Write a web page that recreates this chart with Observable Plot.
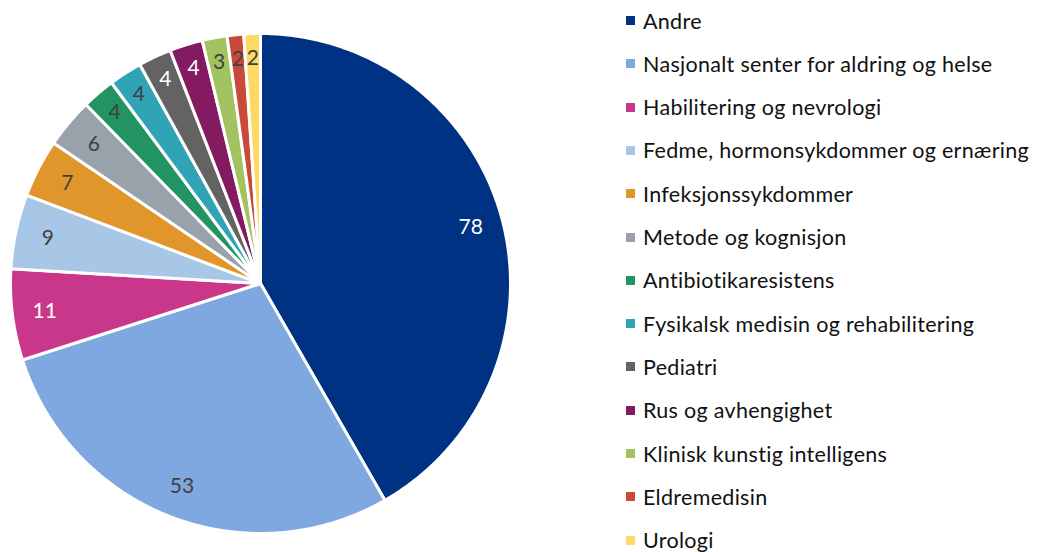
<!DOCTYPE html>
<html>
<head>
<meta charset="utf-8">
<script src="https://cdn.jsdelivr.net/npm/d3@7"></script>
<script src="https://cdn.jsdelivr.net/npm/@observablehq/plot@0.6"></script>
<style>
  html, body { margin: 0; padding: 0; background: #fff; overflow: hidden; }
  #wrap { position: relative; width: 1047px; height: 552px; font-family: Lato, "Open Sans", sans-serif; }
  #legend { position: absolute; left: 626px; top: 0; }
  .row { position: absolute; left: 0; white-space: nowrap; display: flex; align-items: center; height: 26px; font-size: 21.5px; letter-spacing: 0.3px; color: #111; }
  .sw { width: 9px; height: 9px; margin-right: 8px; flex: none; }
</style>
</head>
<body>
<div id="wrap"><div id="legend"></div></div>
<script>
const categories = [
  "Andre",
  "Nasjonalt senter for aldring og helse",
  "Habilitering og nevrologi",
  "Fedme, hormonsykdommer og ernæring",
  "Infeksjonssykdommer",
  "Metode og kognisjon",
  "Antibiotikaresistens",
  "Fysikalsk medisin og rehabilitering",
  "Pediatri",
  "Rus og avhengighet",
  "Klinisk kunstig intelligens",
  "Eldremedisin",
  "Urologi"
];
const values = [78, 53, 11, 9, 7, 6, 4, 4, 4, 4, 3, 2, 2];
const colors = ["#003283", "#7FA8E0", "#C9378A", "#A8C6E6", "#E0962A", "#99A1AA", "#229463", "#30A3B5", "#636363", "#841B60", "#A3C260", "#C94A3B", "#FFD966"];
const labelColors = ["#fff", "#404040", "#fff", "#404040", "#404040", "#404040", "#404040", "#404040", "#fff", "#fff", "#404040", "#404040", "#404040"];

const R = 250;
const pie = d3.pie().sort(null).value(d => d.value)(categories.map((name, i) => ({name, value: values[i], i})));

const polys = [];
for (const a of pie) {
  const n = Math.max(4, Math.ceil((a.endAngle - a.startAngle) / 0.01));
  polys.push({name: a.data.name, x: 0, y: 0});
  for (let k = 0; k <= n; k++) {
    const t = a.startAngle + (a.endAngle - a.startAngle) * k / n;
    polys.push({name: a.data.name, x: R * Math.sin(t), y: R * Math.cos(t)});
  }
  polys.push({name: a.data.name, x: 0, y: 0});
}
const labels = pie.map(a => {
  const m = (a.startAngle + a.endAngle) / 2;
  const rl = a.data.value < 5 ? 0.9 * R : 0.87 * R;
  return {name: a.data.name, text: String(a.data.value), x: rl * Math.sin(m), y: rl * Math.cos(m), c: labelColors[a.data.i]};
});

const chart = Plot.plot({
  width: 1047,
  height: 552,
  margin: 0,
  style: {fontFamily: "Lato, 'Open Sans', sans-serif", background: "transparent"},
  x: {domain: [-R, R], range: [10, 510], axis: null},
  y: {domain: [-R, R], range: [533, 33], axis: null},
  color: {domain: categories, range: colors},
  marks: [
    Plot.line(polys, {x: "x", y: "y", z: "name", fill: "name", stroke: "white", strokeWidth: 3, strokeLinejoin: "round", curve: "linear"}),
    Plot.text(labels, {x: "x", y: "y", text: "text", fill: "c", fontSize: 21})
  ]
});
document.getElementById("wrap").prepend(chart);
chart.style.position = "absolute";
chart.style.left = "0";
chart.style.top = "0";

const legend = document.getElementById("legend");
categories.forEach((name, i) => {
  const row = document.createElement("div");
  row.className = "row";
  row.style.top = (20.5 + i * 43.3 - 13) + "px";
  const sw = document.createElement("span");
  sw.className = "sw";
  sw.style.background = colors[i];
  const tx = document.createElement("span");
  tx.textContent = name;
  row.appendChild(sw);
  row.appendChild(tx);
  legend.appendChild(row);
});
</script>
</body>
</html>
